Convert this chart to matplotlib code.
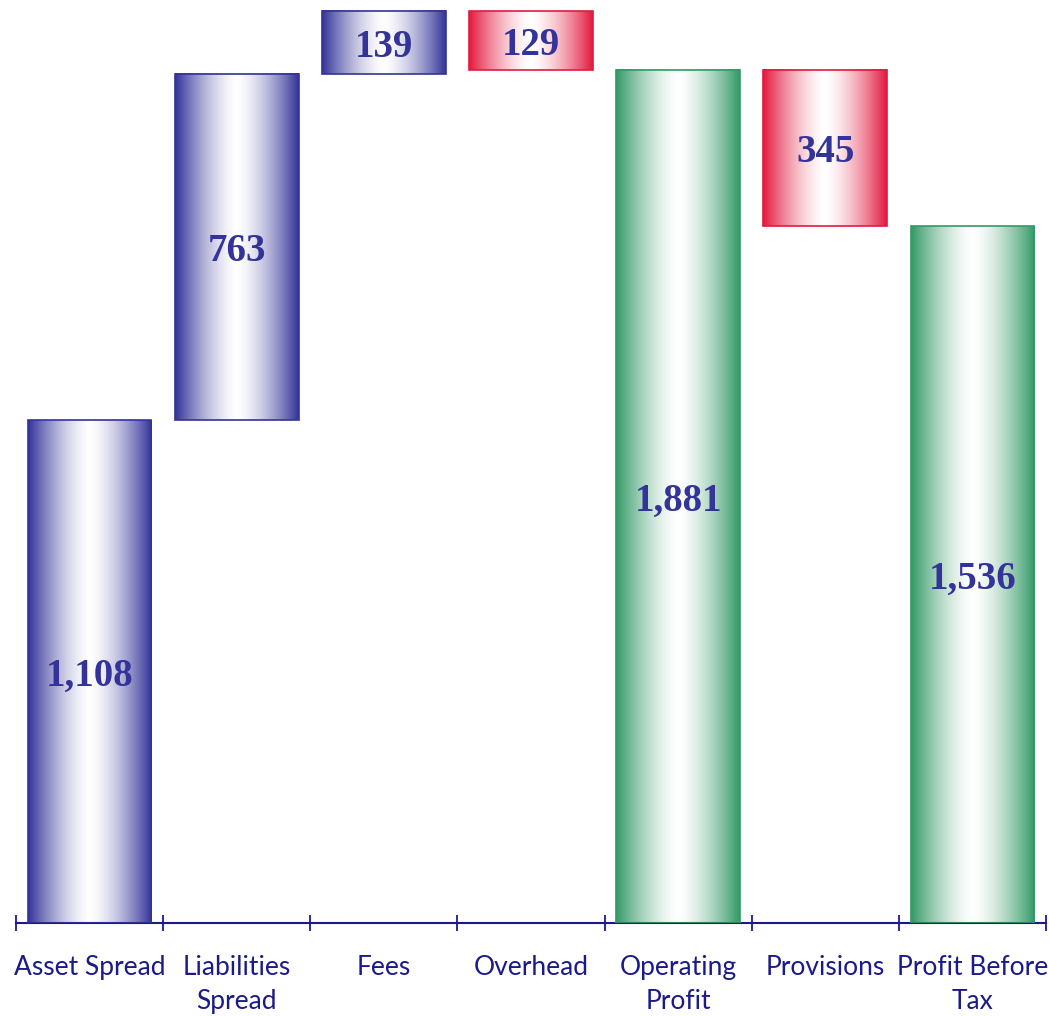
import numpy as np
import matplotlib.pyplot as plt
from matplotlib.colors import to_rgb
from matplotlib.patches import Rectangle

categories = ["Asset Spread", "Liabilities\nSpread", "Fees", "Overhead",
              "Operating\nProfit", "Provisions", "Profit Before\nTax"]
values = [1108, 763, 139, -129, 1881, -345, 1536]
kinds = ["inc", "inc", "inc", "dec", "total", "dec", "total"]

colors = {"inc": "#333399", "dec": "#e3193f", "total": "#339966"}
label_color = "#333399"
axis_color = "#1a1a8a"


def gradient_image(color, n=256, gamma=1.5):
    # dark at both edges, fading to white across the middle of the bar
    t = np.linspace(0, 1, n)
    w = np.abs(2 * t - 1) ** gamma
    c = np.array(to_rgb(color))
    rgb = 1 - w[:, None] * (1 - c[None, :])
    return rgb[None, :, :]


fig = plt.figure(figsize=(10.49, 10.16), dpi=100)
ax = fig.add_axes([16 / 1049, 93 / 1016, 1030 / 1049, 923 / 1016])

width = 0.84
running = 0
for i, (v, kind) in enumerate(zip(values, kinds)):
    if kind == "total":
        bottom, top = 0, v
        running = v
    elif v >= 0:
        bottom, top = running, running + v
        running = top
    else:
        bottom, top = running + v, running
        running = bottom

    col = colors[kind]
    ax.imshow(gradient_image(col), extent=[i - width / 2, i + width / 2, bottom, top],
              aspect="auto", interpolation="bicubic", zorder=2)
    ax.add_patch(Rectangle((i - width / 2, bottom), width, top - bottom,
                           fill=False, edgecolor=col, lw=1.2, zorder=3))
    ax.text(i, (bottom + top) / 2, f"{abs(v):,}", ha="center", va="center_baseline",
            fontsize=28, weight="bold", family="Liberation Serif",
            color=label_color, zorder=4)

ax.set_xlim(-0.5, len(categories) - 0.5)
ax.set_ylim(0, 2035)

for side in ["top", "right", "left"]:
    ax.spines[side].set_visible(False)
ax.spines["bottom"].set_color(axis_color)
ax.spines["bottom"].set_linewidth(1.5)

ax.set_yticks([])
ax.set_xticks(range(len(categories)))
ax.set_xticklabels(categories, family="Lato", fontsize=19, color=axis_color,
                   linespacing=1.45)
ax.set_xticks(np.arange(-0.5, len(categories), 1), minor=True)
ax.tick_params(axis="x", which="major", length=0, pad=23)
ax.tick_params(axis="x", which="minor", length=12, width=1.3,
               direction="inout", color=axis_color)

fig.savefig("out.png", dpi=100)
